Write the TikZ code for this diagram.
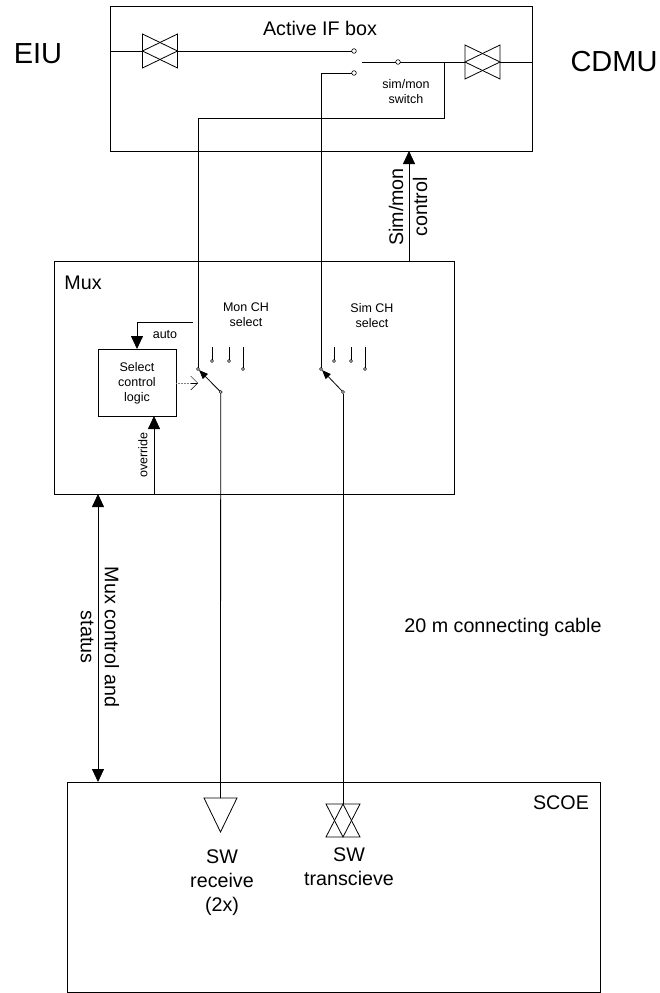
\documentclass[tikz,border=0pt]{standalone}
\usepackage{fontspec}
\setmainfont{Liberation Sans}
\usetikzlibrary{arrows.meta}

\begin{document}
\begin{tikzpicture}[
  x=1pt, y=-1pt,
  line width=0.8pt,
  every node/.style={inner sep=0pt, outer sep=0pt, align=center},
  bigtext/.style={font=\fontsize{29}{32}\selectfont},
  midtext/.style={font=\fontsize{19.7}{24}\selectfont},
  smalltext/.style={font=\fontsize{12.5}{15}\selectfont},
  mybox/.style={rectangle, draw, anchor=north west},
  contact/.style={circle, draw, fill=white, line width=0.6pt, minimum size=4.6pt},
  smallcontact/.style={circle, draw, fill=white, line width=0.6pt, minimum size=3pt},
  bowtie/.style={rectangle, minimum width=35pt, minimum height=34pt},
  vbowtie/.style={rectangle, minimum width=34pt, minimum height=33pt},
  rxtri/.style={rectangle, minimum width=33pt, minimum height=34pt},
  bigarrow/.style={-{Triangle[length=13pt,width=12pt]}},
  polearrow/.style={-{Triangle[length=9pt,width=7pt]}},
]
  \useasboundingbox (0,0) rectangle (660,993);

  % boxes
  \node[mybox, minimum width=422pt, minimum height=145pt] (ifbox) at (110,6) {};
  \node[mybox, minimum width=400pt, minimum height=233pt] (mux) at (54,261) {};
  \node[mybox, minimum width=78pt, minimum height=67pt] (logic) at (98,349) {};
  \node[mybox, minimum width=533pt, minimum height=210pt] (scoe) at (67,782) {};

  % labels
  \node[bigtext] (eiu) at (38,54) {EIU};
  \node[bigtext] (cdmu) at (614,62) {CDMU};
  \node[midtext] (iflabel) at (320,28) {Active IF box};
  \node[midtext] (muxlabel) at (83,283) {Mux};
  \node[midtext] (scoelabel) at (561,803) {SCOE};
  \node[midtext] (cablelabel) at (503,627) {20 m connecting cable};
  \node[midtext] (rxlabel) at (222,883) {SW\\receive\\(2x)};
  \node[midtext, anchor=north] (txlabel) at (349,848) {SW\\transcieve};
  \node[midtext, rotate=90] (simctl) at (408,207) {Sim/mon\\control};
  \node[midtext, rotate=-90] (muxctl) at (100,637) {Mux control and\\status};
  \node[smalltext] (swlabel) at (406,92) {sim/mon\\switch};
  \node[smalltext] (monlabel) at (246,314.5) {Mon CH\\select};
  \node[smalltext] (simlabel) at (372,315.5) {Sim CH\\select};
  \node[smalltext] (logiclabel) at (137,383) {Select\\control\\logic};
  \node[smalltext] (autolabel) at (165,335) {auto};
  \node[smalltext, rotate=90] (ovrlabel) at (143,455) {override};

  % active IF box
  \node[bowtie] (tieL) at (160,51) {};
  \node[bowtie] (tieR) at (482.5,62) {};
  \node[contact] (swA) at (354,51) {};
  \node[contact] (swB) at (354,73) {};
  \node[contact] (swC) at (398,62) {};
  \coordinate (swarm) at (362,62);
  \coordinate (tap) at (444,62);
  \coordinate (tapcorner) at (444,118);
  \coordinate (ifL) at (110,51);
  \coordinate (ifR) at (532,62);

  \draw (tieL.north west) -- (tieL.east) -- (tieL.south west) -- cycle;
  \draw (tieL.north east) -- (tieL.west) -- (tieL.south east) -- cycle;
  \draw (tieR.north west) -- (tieR.east) -- (tieR.south west) -- cycle;
  \draw (tieR.north east) -- (tieR.west) -- (tieR.south east) -- cycle;
  \draw (ifL) -- (tieL.west);
  \draw (tieL.east) -- (swA);
  \draw (swarm) -- (swC);
  \draw (swC) -- (tieR.west);
  \draw (tieR.east) -- (ifR);

  % mux switches
  \node[smallcontact] (monin) at (198,369) {};
  \node[smallcontact] (monB) at (212,361) {};
  \node[smallcontact] (monC) at (229,361) {};
  \node[smallcontact] (monD) at (243,369) {};
  \node[smallcontact] (monpole) at (220.7,392) {};
  \node[smallcontact] (simin) at (321,369) {};
  \node[smallcontact] (simB) at (334,361) {};
  \node[smallcontact] (simC) at (351,361) {};
  \node[smallcontact] (simD) at (365,369) {};
  \node[smallcontact] (simpole) at (343,392) {};

  \foreach \n/\x in {monB/212, monC/229, monD/243, simB/334, simC/351, simD/365}
    \draw (\n) -- (\x,347);

  \draw[polearrow] (monpole) -- (monin);
  \draw[polearrow] (simpole) -- (simin);

  % SCOE symbols
  \node[rxtri] (rx) at (220.5,815) {};
  \node[vbowtie] (tx) at (343,820.5) {};
  \draw (rx.north west) -- (rx.south) -- (rx.north east) -- cycle;
  \draw (tx.north west) -- (tx.south) -- (tx.north east) -- cycle;
  \draw (tx.south west) -- (tx.north) -- (tx.south east) -- cycle;

  % signal lines
  \draw (swB) -| (simin);
  \draw (monin) |- (tapcorner) -- (tap);
  \draw (monpole) -- (rx.north);
  \draw (simpole) -- (tx.north);

  % control lines
  \coordinate (autostart) at (193,322);
  \coordinate (ctlstart) at (409,261);
  \coordinate (ctlend) at (409,151);
  \coordinate (ovrstart) at (154,494);
  \coordinate (ovrend) at (154,416);
  \coordinate (autoend) at (137,349);
  \coordinate (muxend) at (98,494);
  \coordinate (scoeend) at (98,782);
  \coordinate (dashstart) at (176,383);
  \coordinate (dashend) at (198,383);
  \coordinate (barbstart) at (191,383);

  \draw[bigarrow] (ctlstart) -- (ctlend);
  \draw[bigarrow] (ovrstart) -- (ovrend);
  \draw[bigarrow] (autostart) -| (autoend);
  \draw[{Triangle[length=13pt,width=12pt]}-{Triangle[length=13pt,width=12pt]}] (muxend) -- (scoeend);
  \draw[gray, densely dotted, line width=0.5pt] (dashstart) -- (dashend);
  \draw[-{Straight Barb[length=7pt,width=14pt]}, line width=0.5pt] (barbstart) -- (dashend);
\end{tikzpicture}
\end{document}
